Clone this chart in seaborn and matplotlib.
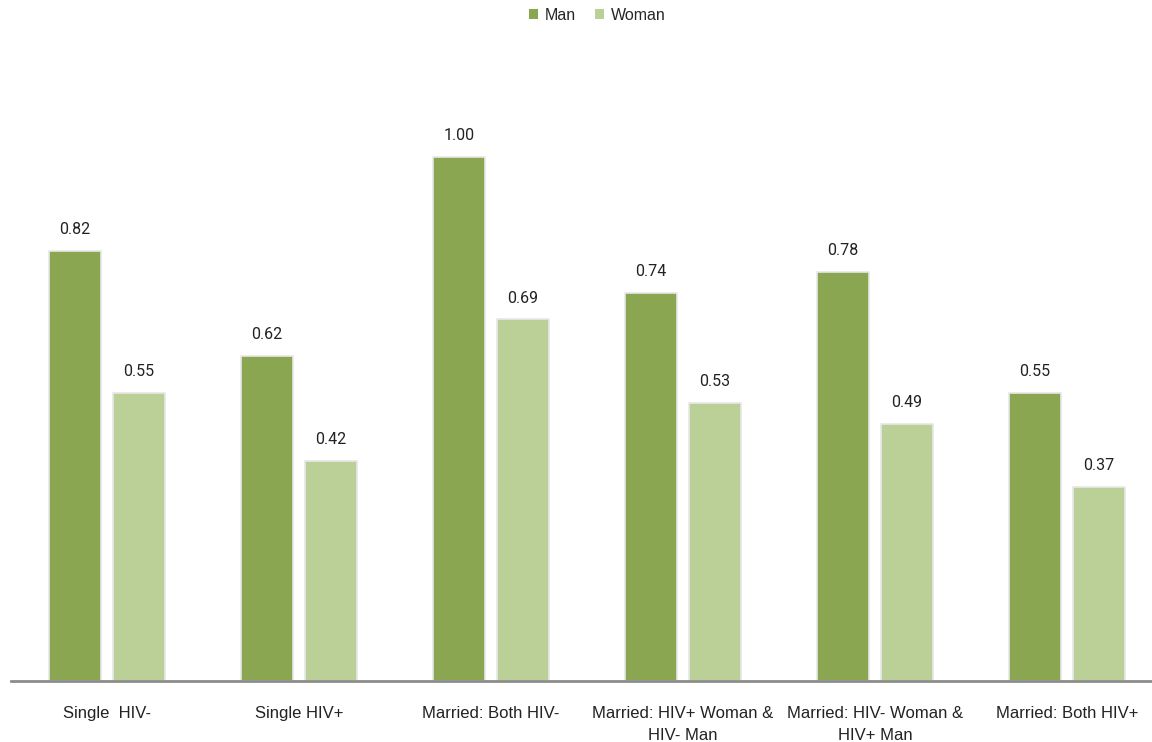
import matplotlib
matplotlib.use("Agg")
import matplotlib.pyplot as plt
from matplotlib.patches import Patch
import seaborn as sns
import pandas as pd

categories = [
    "Single  HIV-",
    "Single HIV+",
    "Married: Both HIV-",
    "Married: HIV+ Woman &\nHIV- Man",
    "Married: HIV- Woman &\nHIV+ Man",
    "Married: Both HIV+",
]
series = ["Man", "Woman"]
man_values = [0.82, 0.62, 1.00, 0.74, 0.78, 0.55]
woman_values = [0.55, 0.42, 0.69, 0.53, 0.49, 0.37]
colors = {"Man": "#8ba650", "Woman": "#bbd097"}

df = pd.DataFrame({
    "category": categories * 2,
    "sex": ["Man"] * len(categories) + ["Woman"] * len(categories),
    "value": man_values + woman_values,
})

sns.set_theme(style="white")
plt.rcParams["font.family"] = ["Roboto", "DejaVu Sans"]

W, H = 1152, 742
fig = plt.figure(figsize=(W / 100, H / 100), dpi=100)
base_px, top_px, left_px = 681, 40, 11
ax = fig.add_axes([left_px / W, (H - base_px) / H, (W - left_px) / W, (base_px - top_px) / H])

sns.barplot(
    data=df, x="category", y="value", hue="sex", order=categories,
    hue_order=series, palette=colors, saturation=1, width=0.667, gap=0.19,
    edgecolor="#e8e8e8", linewidth=1.2, legend=False, ax=ax,
)

ax.set_xlim(-0.5, -0.5 + (W - left_px) / 192)
ax.set_ylim(0, (base_px - top_px) / 524)

for container in ax.containers:
    ax.bar_label(container, fmt="%.2f", padding=10, fontsize=11.5, color="#222222")

ax.set_xlabel("")
ax.set_ylabel("")
ax.set_yticks([])
ax.tick_params(axis="x", length=0, pad=18)
for lab in ax.get_xticklabels():
    lab.set_fontfamily(["Liberation Sans Narrow", "Liberation Sans", "DejaVu Sans"])
    lab.set_fontsize(12)
    lab.set_color("#222222")
    lab.set_linespacing(1.55)
    lab.set_verticalalignment("top")

for side in ["top", "right", "left"]:
    ax.spines[side].set_visible(False)
ax.spines["bottom"].set_color("#8c8c8c")
ax.spines["bottom"].set_linewidth(2)

handles = [Patch(facecolor=colors[s], edgecolor="none", label=s) for s in series]
fig.legend(
    handles=handles, loc="center", bbox_to_anchor=(597 / W, 1 - 15 / H), ncol=2,
    frameon=False, handlelength=0.6, handleheight=0.6, handletextpad=0.4,
    columnspacing=1.2, prop={"family": ["Liberation Sans", "DejaVu Sans"], "size": 11.5},
)

fig.savefig("out.png", dpi=100, facecolor="white")
